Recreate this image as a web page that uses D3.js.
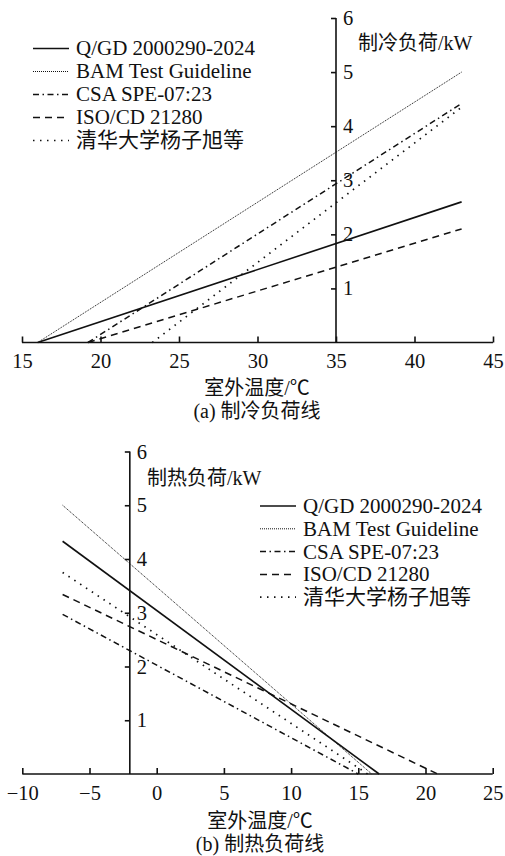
<!DOCTYPE html>
<html>
<head>
<meta charset="utf-8">
<script src="https://cdn.jsdelivr.net/npm/d3@7"></script>
<style>
  body { margin: 0; background: #fff; }
</style>
</head>
<body>
<svg id="chart" width="505" height="856"></svg>
<script>
const FONT = '"Liberation Serif", "Noto Sans CJK SC", serif';

// legend labels, same order in both panels
const seriesNames = ["Q/GD 2000290-2024", "BAM Test Guideline", "CSA SPE-07:23", "ISO/CD 21280", "清华大学杨子旭等"];
const seriesDash = ["none", "1,1", "6,3.5,1.5,3.5", "7,5", "1.5,5.5"];
const seriesWidth = [1.6, 1, 1.5, 1.5, 1.7];

// (a) cooling load lines: [outdoor temp, load kW]
const coolQGD = [[16, 0], [43, 2.6]];
const coolBAM = [[16, 0], [43, 5.0]];
const coolCSA = [[19.2, 0], [43, 4.42]];
const coolISO = [[19.2, 0], [43, 2.1]];
const coolTHU = [[23.3, 0], [43, 4.35]];

// (b) heating load lines
const heatQGD = [[-7, 4.33], [16.55, 0]];
const heatBAM = [[-7, 5.0], [16.0, 0]];
const heatCSA = [[-7, 2.97], [15.0, 0]];
const heatISO = [[-7, 3.34], [20.9, 0]];
const heatTHU = [[-7, 3.75], [15.7, 0]];

const coolXTicks = [15, 20, 25, 30, 35, 40, 45];
const heatXTicks = [-10, -5, 0, 5, 10, 15, 20, 25];
const yTicks = [1, 2, 3, 4, 5, 6];

const svg = d3.select("#chart").attr("font-family", FONT);

function panel(opts) {
    const g = svg.append("g");
    const x = d3.scaleLinear().domain(opts.xDomain).range(opts.xRange);
    const y = d3.scaleLinear().domain([0, 6]).range(opts.yRange);

    // x axis, ticks pointing up
    const xa = g.append("g")
        .attr("transform", `translate(0,${y(0)})`)
        .call(d3.axisBottom(x).tickValues(opts.xTicks).tickSizeInner(-6).tickSizeOuter(0).tickPadding(11)
            .tickFormat(d => d < 0 ? "\u2212" + Math.abs(d) : d));
    // y axis sits inside the plot at opts.yAt, labels on its right
    const ya = g.append("g")
        .attr("transform", `translate(${x(opts.yAt)},0)`)
        .call(d3.axisLeft(y).tickValues(yTicks).tickFormat(d3.format("d")).tickSize(5).tickSizeOuter(0));
    ya.selectAll("text").attr("x", 7).attr("text-anchor", "start");
    [xa, ya].forEach(a => {
        a.attr("font-family", FONT).attr("font-size", 20.5);
        a.selectAll("path, line").attr("stroke", "#111").attr("stroke-width", 1.6);
        a.selectAll("text").attr("fill", "#111");
    });
    xa.select(".domain").attr("d", `M${opts.xRange[0]},0H${opts.xRange[1]}`);
    ya.select(".domain").attr("d", `M0,${y(0)}V${y(6)}`);

    const line = d3.line().x(d => x(d[0])).y(d => y(d[1]));
    g.selectAll("path.series")
        .data(opts.series)
        .join("path")
        .attr("class", "series")
        .attr("d", line)
        .attr("fill", "none")
        .attr("stroke", "#111")
        .attr("stroke-width", (d, i) => seriesWidth[i])
        .attr("stroke-dasharray", (d, i) => seriesDash[i]);

    // legend
    const lg = g.append("g").attr("transform", `translate(${opts.legend[0]},${opts.legend[1]})`);
    const row = lg.selectAll("g").data(seriesNames).join("g")
        .attr("transform", (d, i) => `translate(0,${i * opts.legendStep})`);
    row.append("line")
        .attr("x1", 0).attr("x2", 36)
        .attr("stroke", "#111")
        .attr("stroke-width", (d, i) => seriesWidth[i])
        .attr("stroke-dasharray", (d, i) => seriesDash[i]);
    row.append("text")
        .attr("x", 43).attr("dy", "0.33em")
        .attr("font-family", FONT).attr("font-size", 21).attr("fill", "#111")
        .text(d => d);

    const label = (xx, yy, txt, anchor) => g.append("text")
        .attr("x", xx).attr("y", yy).attr("dy", "0.35em")
        .attr("text-anchor", anchor)
        .attr("font-family", FONT).attr("font-size", 20).attr("fill", "#111")
        .text(txt);
    label(opts.yLabel[0], opts.yLabel[1], opts.yTitle, "start");
    label(opts.xLabel[0], opts.xLabel[1], "室外温度/℃", "middle");
    label(opts.xLabel[0], opts.caption, opts.captionText, "middle");
}

panel({
    xDomain: [15, 45], xRange: [22, 493], yRange: [342.5, 18],
    xTicks: coolXTicks, yAt: 35,
    series: [coolQGD, coolBAM, coolCSA, coolISO, coolTHU],
    legend: [33, 48.5], legendStep: 23,
    yTitle: "制冷负荷/kW", yLabel: [358, 43],
    xLabel: [257, 388], caption: 411, captionText: "(a) 制冷负荷线"
});

panel({
    xDomain: [-10, 25], xRange: [22.3, 492.7], yRange: [774, 451.5],
    xTicks: heatXTicks, yAt: -2,
    series: [heatQGD, heatBAM, heatCSA, heatISO, heatTHU],
    legend: [260, 506], legendStep: 22.8,
    yTitle: "制热负荷/kW", yLabel: [147, 478],
    xLabel: [260, 821], caption: 844, captionText: "(b) 制热负荷线"
});
</script>
</body>
</html>
